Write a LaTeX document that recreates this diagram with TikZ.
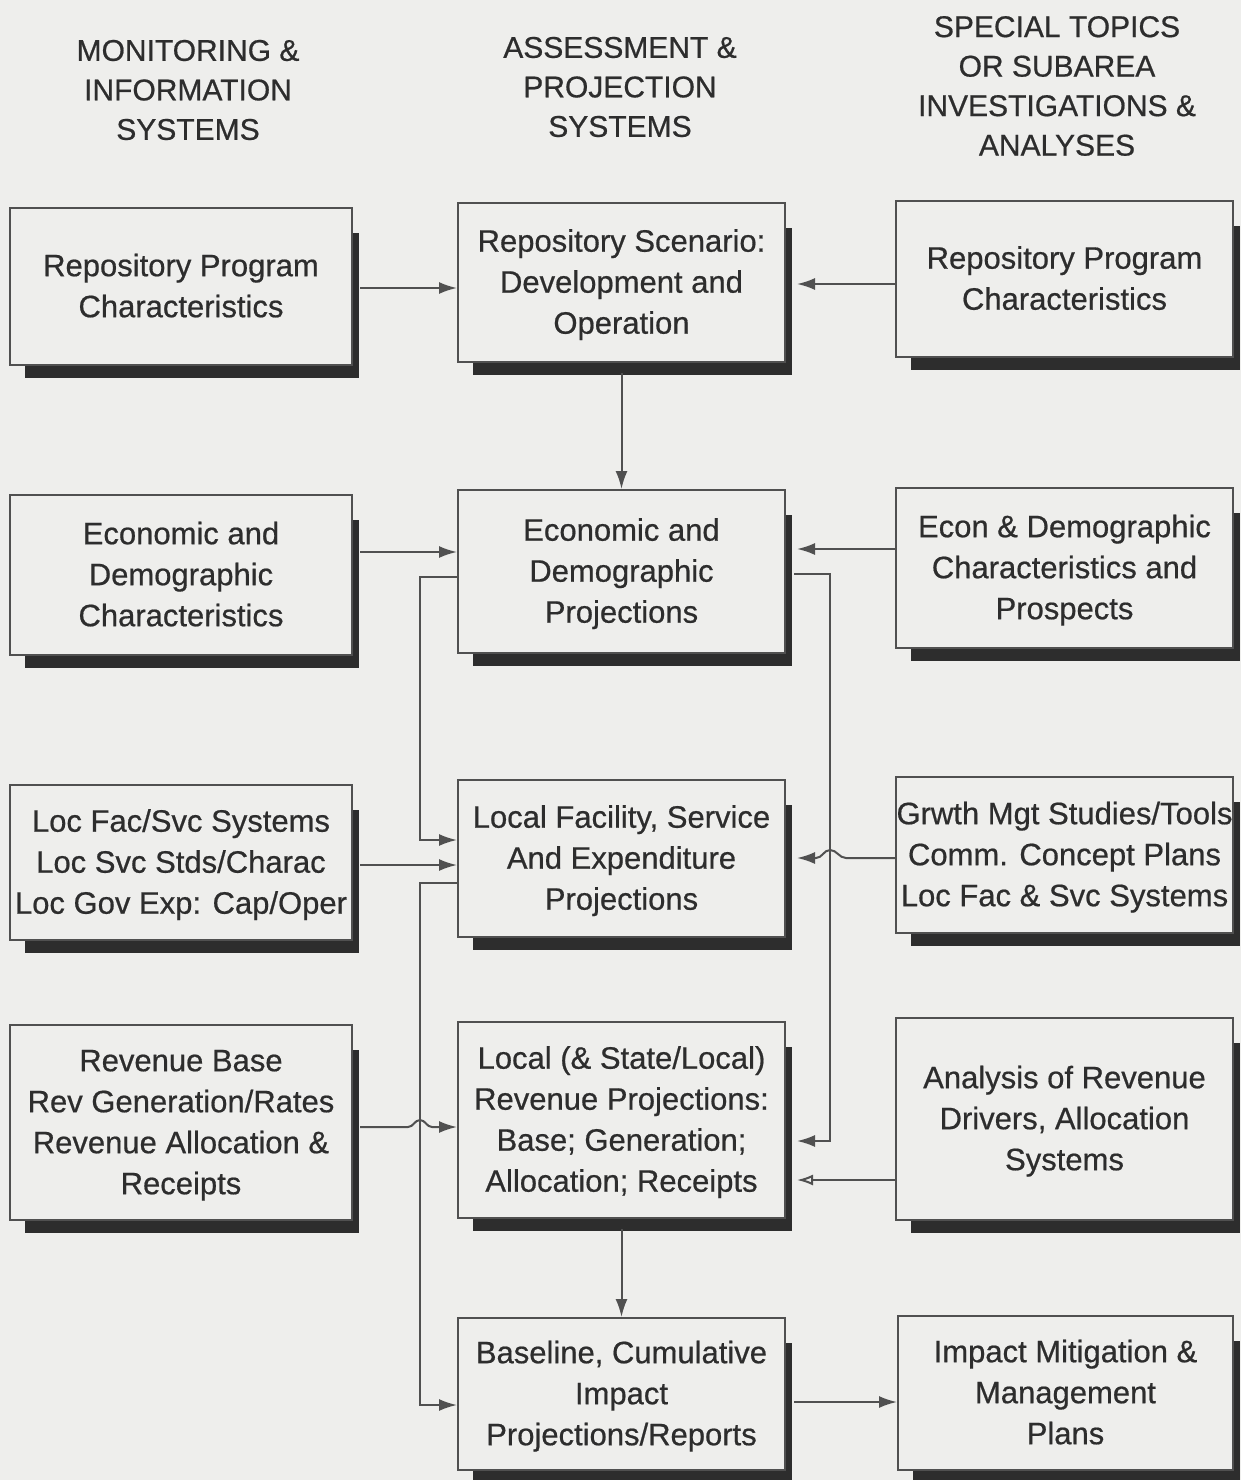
\documentclass[tikz,border=0pt]{standalone}
\usepackage{fontspec}
\setmainfont{Liberation Sans}
\newfontfamily\boxfont{Liberation Sans}[FakeBold=0.6]
\usetikzlibrary{arrows.meta,calc}

\definecolor{paper}{RGB}{238,238,236}
\definecolor{ink}{RGB}{45,45,45}
\definecolor{edge}{RGB}{80,80,80}
\definecolor{shadowc}{RGB}{45,45,45}

\tikzset{
  panel/.style={draw=edge, line width=2pt, fill=paper, inner sep=0pt,
    text=ink, font=\boxfont\fontsize{31}{41}\selectfont},
  head/.style={align=center, text=ink, font=\boxfont\fontsize{30}{39.5}\selectfont},
  link/.style={draw=edge, line width=2pt},
  arr/.style={link, -{Latex[length=18pt,width=12pt]}},
  openarr/.style={link, -{Latex[open,length=16pt,width=11pt]}},
}

% \panel{name}{x1}{y1}{x2}{y2}{text}: a box with its drop shadow
\newcommand\panel[6]{%
  \pgfmathsetmacro\pw{#4-#2}\pgfmathsetmacro\ph{#5-#3}%
  \pgfmathsetmacro\pcx{(#2+#4)/2}\pgfmathsetmacro\pcy{(#3+#5)/2+2}%
  \pgfmathsetmacro\ptw{#4-#2-4}%
  \fill[shadowc] (#2+15,#3+25) rectangle (#4+7,#5+13);
  \node[panel, minimum width=\pw pt, minimum height=\ph pt]
    (#1) at (\pcx,\pcy-2) {};
  \node[panel, draw=none, fill=none, anchor=center] (#1-t) at (\pcx,\pcy)
    {\makebox[\ptw pt]{\begin{tabular}{@{}c@{}}#6\end{tabular}}};}

\begin{document}
\begin{tikzpicture}[x=1pt,y=-1pt]
\fill[paper] (0,0) rectangle (1241,1480);
\useasboundingbox (0,0) rectangle (1241,1480);

% column headings
\node[head] (h1) at (188,90) {MONITORING \&\\INFORMATION\\SYSTEMS};
\node[head] (h2) at (620,87) {ASSESSMENT \&\\PROJECTION\\SYSTEMS};
\node[head] (h3) at (1057,86) {SPECIAL TOPICS\\OR SUBAREA\\INVESTIGATIONS \&\\ANALYSES};

% left column
\panel{L1}{10}{208}{352}{365}{Repository Program\\Characteristics}
\panel{L2}{10}{495}{352}{655}{Economic and\\Demographic\\Characteristics}
\panel{L3}{10}{785}{352}{940}{Loc Fac/Svc Systems\\Loc Svc Stds/Charac\\Loc Gov Exp: Cap/Oper}
\panel{L4}{10}{1025}{352}{1220}{Revenue Base\\Rev Generation/Rates\\Revenue Allocation \&\\Receipts}

% middle column
\panel{M1}{458}{203}{785}{362}{Repository Scenario:\\Development and\\Operation}
\panel{M2}{458}{490}{785}{653}{Economic and\\Demographic\\Projections}
\panel{M3}{458}{780}{785}{937}{Local Facility, Service\\And Expenditure\\Projections}
\panel{M4}{458}{1022}{785}{1218}{Local (\& State/Local)\\Revenue Projections:\\Base; Generation;\\Allocation; Receipts}
\panel{M5}{458}{1318}{785}{1470}{Baseline, Cumulative\\Impact\\Projections/Reports}

% right column
\panel{R1}{896}{201}{1233}{357}{Repository Program\\Characteristics}
\panel{R2}{896}{488}{1233}{648}{Econ \& Demographic\\Characteristics and\\Prospects}
\panel{R3}{896}{777}{1233}{933}{Grwth Mgt Studies/Tools\\Comm. Concept Plans\\Loc Fac \& Svc Systems}
\panel{R4}{896}{1018}{1233}{1220}{Analysis of Revenue\\Drivers, Allocation\\Systems}
\panel{R5}{898}{1316}{1233}{1470}{Impact Mitigation \&\\Management\\Plans}

% vertical buses
\coordinate (lbus) at (420,0);
\coordinate (rbus) at (830,0);

% left inputs
\draw[arr] ([xshift=7pt]L1.east |- 0,288) -- (M1.west |- 0,288);
\draw[arr] ([xshift=7pt]L2.east |- 0,552) -- (M2.west |- 0,552);
\draw[arr] ([xshift=7pt]L3.east |- 0,865) -- (M3.west |- 0,865);
\draw[arr] ([xshift=7pt]L4.east |- 0,1127) -- ([xshift=-12pt]lbus |- 0,1127)
  to[out=0,in=180] ++(12,-7) to[out=0,in=180] ++(12,7) -- (M4.west |- 0,1127);

% right inputs
\draw[arr] (R1.west |- 0,284) -- ([xshift=11pt]M1.east |- 0,284);
\draw[arr] (R2.west |- 0,549) -- ([xshift=11pt]M2.east |- 0,549);
\draw[arr] (R3.west |- 0,858) -- ([xshift=16pt]rbus |- 0,858)
  to[out=180,in=0] ++(-16,-8) to[out=180,in=0] ++(-14,8) -- ([xshift=11pt]M3.east |- 0,858);
\draw[openarr] (R4.west |- 0,1180) -- ([xshift=11pt]M4.east |- 0,1180);

% main chain
\draw[arr] ([yshift=-10pt]M1.south) -- (M2.north);
\draw[arr] ([yshift=-10pt]M4.south) -- (M5.north);
\draw[arr] ([xshift=8pt]M5.east |- 0,1402) -- (R5.west |- 0,1402);

% feedback loops
\draw[arr] (M2.west |- 0,577) -| (lbus |- 0,840) -- (M3.west |- 0,840);
\draw[arr] (M3.west |- 0,883) -| (lbus |- 0,1405) -- (M5.west |- 0,1405);
\draw[arr] ([xshift=8pt]M2.east |- 0,574) -| (rbus |- 0,1141) -- ([xshift=11pt]M4.east |- 0,1141);
\end{tikzpicture}
\end{document}
